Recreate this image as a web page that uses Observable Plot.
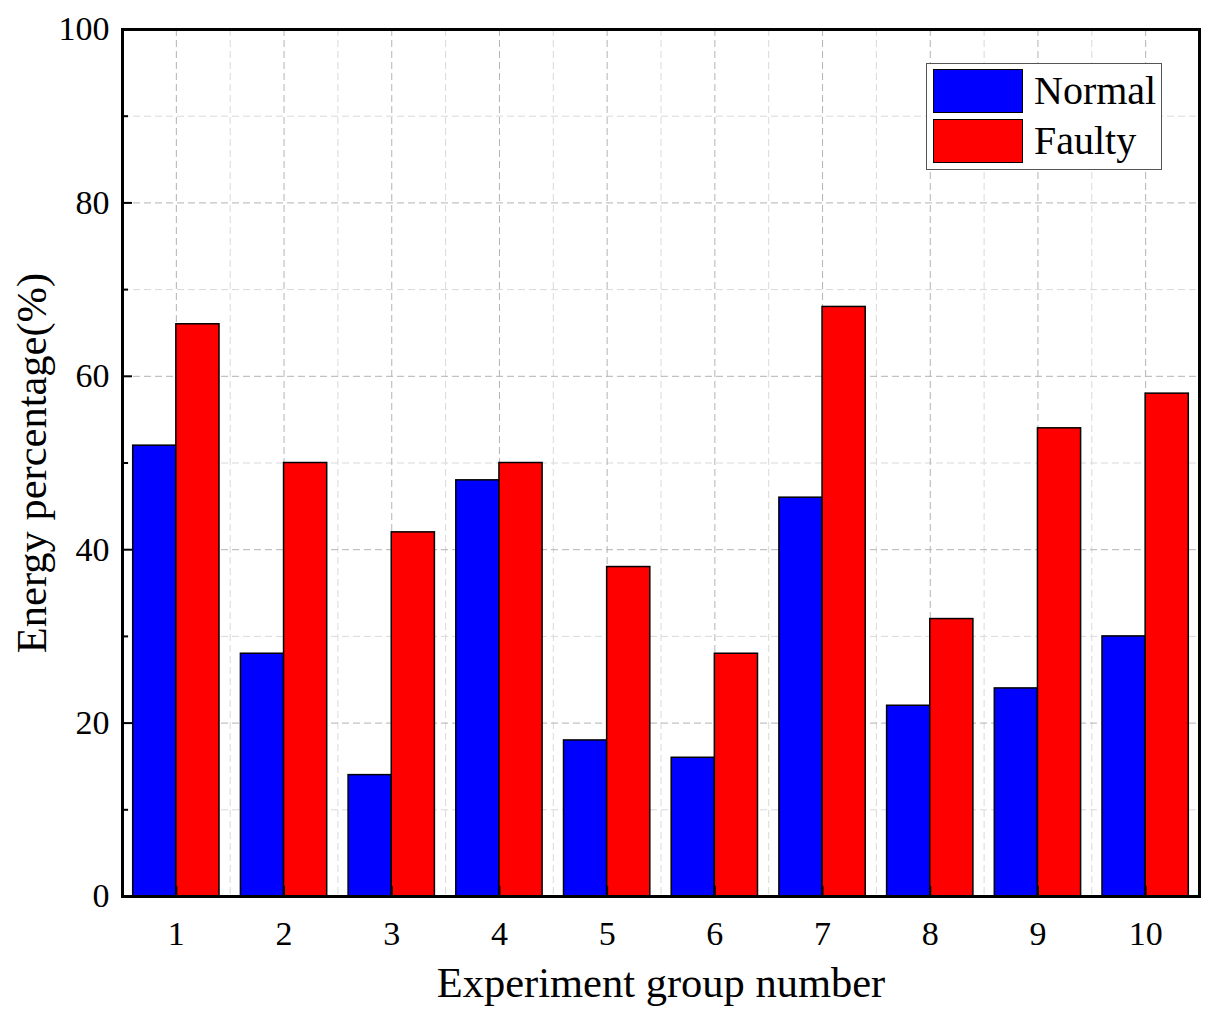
<!DOCTYPE html>
<html>
<head>
<meta charset="utf-8">
<script src="https://cdn.jsdelivr.net/npm/d3@7"></script>
<script src="https://cdn.jsdelivr.net/npm/@observablehq/plot@0.6"></script>
<style>
  html, body { margin: 0; padding: 0; background: #fff; }
  #wrap { position: relative; width: 1214px; height: 1021px; }
  #legend {
    position: absolute; left: 926px; top: 63px; width: 234px; height: 105px;
    border: 1px solid #555; background: #fff; box-sizing: content-box;
    font-family: "Liberation Serif", "Times New Roman", serif; font-size: 40px; color: #000;
  }
  .item { position: absolute; left: 6px; height: 44px; display: flex; align-items: center; }
  .sw { width: 88px; height: 42px; border: 1.5px solid #000; }
  .lab { margin-left: 11px; line-height: 44px; }
</style>
</head>
<body>
<div id="wrap"></div>
<script>
const groups = ["1","2","3","4","5","6","7","8","9","10"];
const normal = [52, 28, 14, 48, 18, 16, 46, 22, 24, 30];
const faulty = [66, 50, 42, 50, 38, 28, 68, 32, 54, 58];
const seriesNames = ["Normal", "Faulty"];
const seriesColors = ["#0000ff", "#ff0000"];
const majorTicks = [0, 20, 40, 60, 80, 100];
const minorTicks = [10, 30, 50, 70, 90];

const W = 1214, H = 1021;
const mL = 122, mR = 15, mT = 29, mB = 125;
const band = (W - mL - mR) / groups.length;

const rows = groups.map((g, i) => ({group: g, normal: normal[i], faulty: faulty[i]}));

const font = '"Liberation Serif", "Times New Roman", serif';

const chart = Plot.plot({
  width: W, height: H,
  marginLeft: mL, marginRight: mR, marginTop: mT, marginBottom: mB,
  style: {fontFamily: font, fontSize: "34px", color: "#000", background: "#fff"},
  x: {domain: groups, padding: 0, round: false},
  y: {domain: [0, 100]},
  marks: [
    // minor grid
    Plot.ruleY(minorTicks, {stroke: "#d9d9d9", strokeWidth: 1, strokeDasharray: "7,4"}),
    Plot.ruleX(groups.slice(1), {x: d => d, dx: -band / 2, stroke: "#d9d9d9", strokeWidth: 1, strokeDasharray: "7,4"}),
    // major grid
    Plot.gridY(majorTicks, {stroke: "#b3b3b3", strokeOpacity: 1, strokeWidth: 1, strokeDasharray: "7,4"}),
    Plot.gridX(groups, {stroke: "#b3b3b3", strokeOpacity: 1, strokeWidth: 1, strokeDasharray: "7,4"}),
    // bars
    Plot.barY(rows, {x: "group", y: "normal", fill: seriesColors[0], stroke: "#000", strokeWidth: 1.5,
      insetLeft: 10.7, insetRight: band / 2}),
    Plot.barY(rows, {x: "group", y: "faulty", fill: seriesColors[1], stroke: "#000", strokeWidth: 1.5,
      insetLeft: band / 2, insetRight: 10.7}),
    // axes
    Plot.axisY(minorTicks, {tickSize: -6, tickFormat: () => "", strokeWidth: 2, label: null}),
    Plot.axisY(majorTicks, {tickSize: -10, tickPadding: 23, strokeWidth: 2,
      label: "Energy percentage(%)", labelAnchor: "center", labelArrow: "none", labelOffset: 107}),
    Plot.axisX(groups, {tickSize: -10, tickPadding: 34, strokeWidth: 2,
      label: "Experiment group number", labelAnchor: "center", labelArrow: "none", labelOffset: 100}),
    // frame
    Plot.frame({stroke: "#000", strokeWidth: 3})
  ]
});

const svg = d3.select(chart);
svg.selectAll("[aria-label='y-axis tick label'] text, [aria-label='x-axis tick label'] text, [aria-label='y-axis tick label'], [aria-label='x-axis tick label']")
  .style("font-size", "34px");
svg.selectAll("[aria-label='y-axis label'], [aria-label='x-axis label'], [aria-label='y-axis label'] text, [aria-label='x-axis label'] text")
  .style("font-size", "42.5px");

document.getElementById("wrap").appendChild(chart);

const lg = document.createElement("div");
lg.id = "legend";
seriesNames.forEach((n, i) => {
  const it = document.createElement("div");
  it.className = "item";
  it.style.top = (5 + i * 50) + "px";
  it.innerHTML = `<div class="sw" style="background:${seriesColors[i]}"></div><span class="lab">${n}</span>`;
  lg.appendChild(it);
});
document.getElementById("wrap").appendChild(lg);
</script>
</body>
</html>
